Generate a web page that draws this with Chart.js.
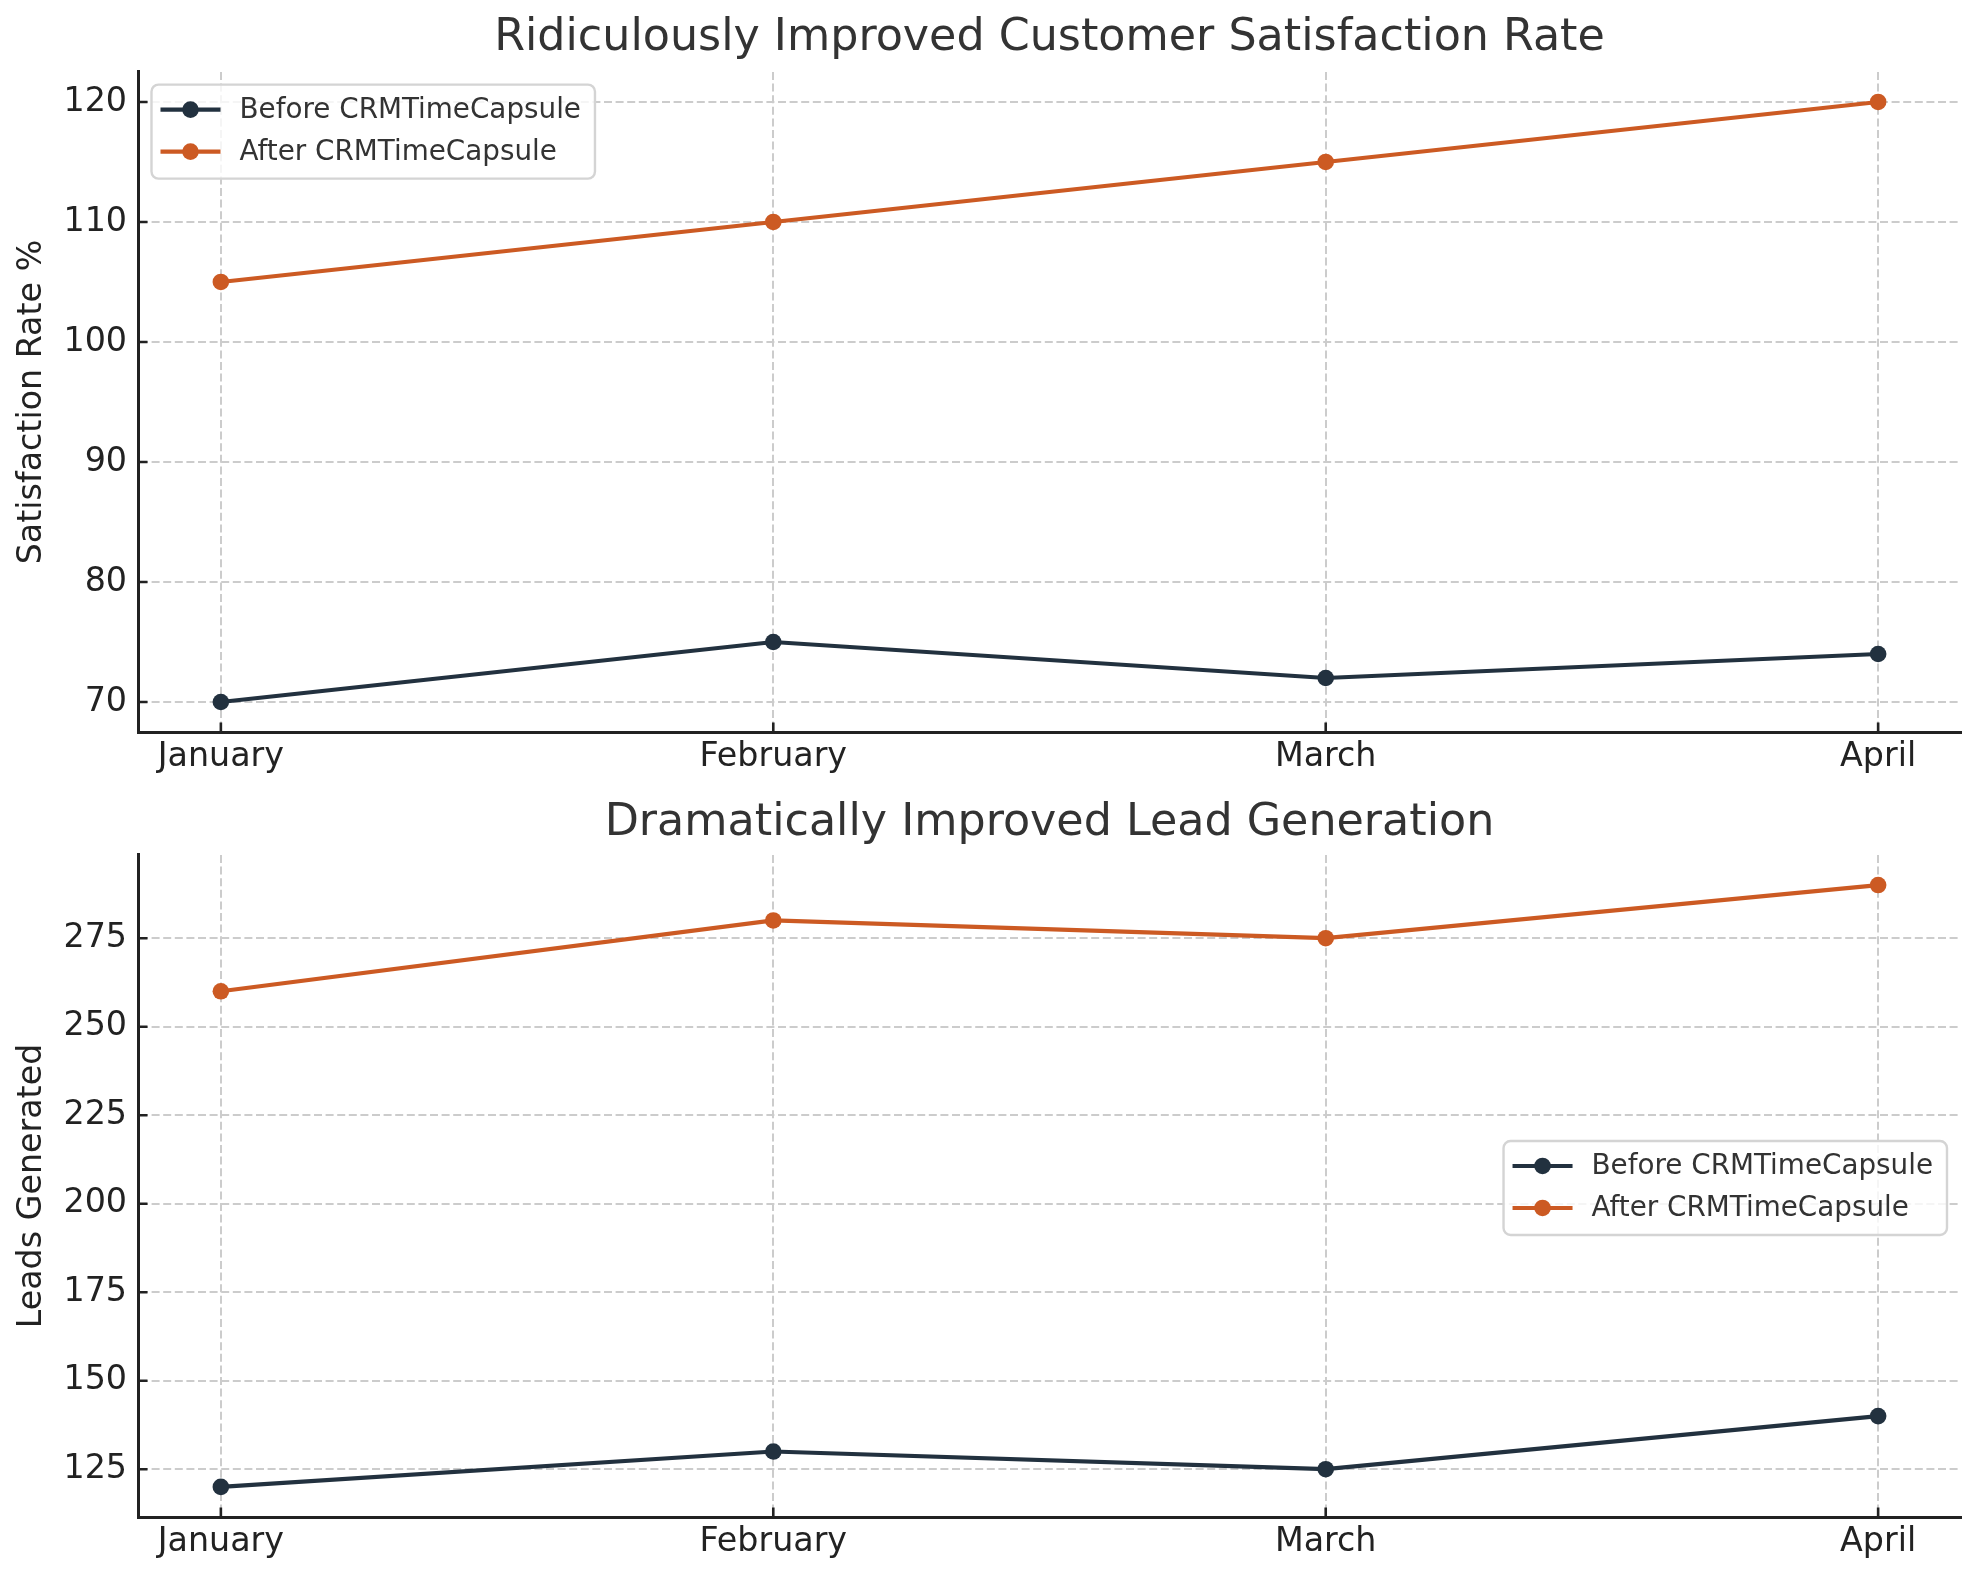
<!DOCTYPE html>
<html>
<head>
<meta charset="utf-8">
<script src="https://cdn.jsdelivr.net/npm/chart.js@4.4.0/dist/chart.umd.min.js"></script>
<style>
  html, body { margin: 0; padding: 0; background: #ffffff; width: 1980px; height: 1580px; overflow: hidden; }
  canvas { display: block; position: absolute; left: 0; }
</style>
</head>
<body>
<canvas id="chartTop" width="1980" height="790" style="top:0px"></canvas>
<canvas id="chartBottom" width="1980" height="790" style="top:790px"></canvas>
<script>
// ---------- data ----------
const months = ['January', 'February', 'March', 'April'];
const seriesNames = ['Before CRMTimeCapsule', 'After CRMTimeCapsule'];

const satisfactionBefore = [70, 75, 72, 74];
const satisfactionAfter  = [105, 110, 115, 120];
const satisfactionTicks  = [70, 80, 90, 100, 110, 120];

const leadsBefore = [120, 130, 125, 140];
const leadsAfter  = [260, 280, 275, 290];
const leadsTicks  = [125, 150, 175, 200, 225, 250, 275];

const chartTitles = ['Ridiculously Improved Customer Satisfaction Rate', 'Dramatically Improved Lead Generation'];
const yAxisTitles = ['Satisfaction Rate %', 'Leads Generated'];

// ---------- style ----------
const FONT = 'DejaVu Sans';
const COLOR_BEFORE = '#22313F';
const COLOR_AFTER = '#CC5A23';
const SPINE = '#222222';

const inwardTicks = {
  id: 'inwardTicks',
  afterDraw(chart) {
    const { ctx, chartArea: a, scales: { x, y } } = chart;
    ctx.save();
    ctx.strokeStyle = SPINE;
    ctx.lineWidth = 2.6;
    ctx.beginPath();
    x.ticks.forEach(t => {
      const px = x.getPixelForValue(t.value);
      ctx.moveTo(px, a.bottom);
      ctx.lineTo(px, a.bottom - 9.5);
    });
    y.ticks.forEach(t => {
      const py = y.getPixelForValue(t.value);
      ctx.moveTo(a.left, py);
      ctx.lineTo(a.left + 9.5, py);
    });
    ctx.stroke();
    ctx.restore();
  }
};

const boxLegend = {
  id: 'boxLegend',
  afterDraw(chart, args, opts) {
    const { ctx, chartArea: a } = chart;
    ctx.save();
    ctx.font = '27.8px "' + FONT + '"';
    const tw = Math.max(...chart.data.datasets.map(d => ctx.measureText(d.label).width));
    const w = 88 + tw + 14;
    const h = 94;
    const left = opts.anchor === 'right' ? a.right - opts.dx - w : a.left + opts.dx;
    const top = a.top + opts.dy;
    ctx.fillStyle = 'rgba(255,255,255,0.8)';
    ctx.strokeStyle = '#d4d4d4';
    ctx.lineWidth = 2.4;
    ctx.beginPath();
    ctx.roundRect(left, top, w, h, 7);
    ctx.fill();
    ctx.stroke();
    chart.data.datasets.forEach((ds, i) => {
      const cy = top + 25 + i * 42;
      ctx.strokeStyle = ds.borderColor;
      ctx.lineWidth = ds.borderWidth;
      ctx.beginPath();
      ctx.moveTo(left + 9, cy);
      ctx.lineTo(left + 69, cy);
      ctx.stroke();
      ctx.fillStyle = ds.pointBackgroundColor;
      ctx.beginPath();
      ctx.arc(left + 39, cy, ds.pointRadius, 0, Math.PI * 2);
      ctx.fill();
      ctx.fillStyle = '#333333';
      ctx.textAlign = 'left';
      ctx.textBaseline = 'middle';
      ctx.fillText(ds.label, left + 88, cy + 1);
    });
    ctx.restore();
  }
};

function makeDataset(label, values, color) {
  return {
    label: label,
    data: values.map((v, i) => ({ x: i, y: v })),
    borderColor: color,
    backgroundColor: color,
    pointBackgroundColor: color,
    pointBorderColor: color,
    pointBorderWidth: 0,
    pointRadius: 8.3,
    borderWidth: 4.2,
    tension: 0,
    fill: false
  };
}

function makeChart(id, before, after, yTicks, title, yTitle, titlePad, xHeight, legendOpts) {
  const all = before.concat(after);
  const lo = Math.min(...all), hi = Math.max(...all);
  const m = 0.05 * (hi - lo);
  const n = months.length - 1;
  const tickFont = { family: FONT, size: 33.3, weight: 'normal' };
  return new Chart(document.getElementById(id), {
    type: 'line',
    data: {
      datasets: [
        makeDataset(seriesNames[0], before, COLOR_BEFORE),
        makeDataset(seriesNames[1], after, COLOR_AFTER)
      ]
    },
    options: {
      responsive: false,
      animation: false,
      devicePixelRatio: 1,
      layout: { padding: { left: 0, right: 19, top: 0, bottom: 0 } },
      plugins: {
        legend: { display: false },
        tooltip: { enabled: false },
        title: {
          display: true,
          text: title,
          fullSize: false,
          color: '#333333',
          font: { family: FONT, size: 44.4, weight: 'normal', lineHeight: 1.2 },
          padding: titlePad
        },
        boxLegend: legendOpts
      },
      scales: {
        x: {
          type: 'linear',
          bounds: 'data',
          min: -0.05 * n,
          max: n * 1.05,
          afterBuildTicks: s => { s.ticks = months.map((mm, i) => ({ value: i })); },
          afterFit: s => { s.height = xHeight; },
          ticks: {
            callback: v => months[v],
            font: tickFont,
            color: '#222222',
            padding: 5,
            maxRotation: 0,
            autoSkip: false
          },
          grid: { color: '#cccccc', lineWidth: 2, drawTicks: false },
          border: { display: true, color: SPINE, width: 3, dash: [8, 3.6] }
        },
        y: {
          type: 'linear',
          bounds: 'data',
          min: lo - m,
          max: hi + m,
          afterBuildTicks: s => { s.ticks = yTicks.map(v => ({ value: v })); },
          afterFit: s => { s.width = 138; },
          ticks: {
            font: tickFont,
            color: '#222222',
            padding: 11
          },
          title: {
            display: true,
            text: yTitle,
            color: '#222222',
            font: { family: FONT, size: 33.3, weight: 'normal', lineHeight: 1.2 },
            padding: { top: 12, bottom: 0 }
          },
          grid: { color: '#cccccc', lineWidth: 2, drawTicks: false },
          border: { display: true, color: SPINE, width: 3, dash: [8, 3.6] }
        }
      }
    },
    plugins: [inwardTicks, boxLegend]
  });
}

makeChart('chartTop', satisfactionBefore, satisfactionAfter, satisfactionTicks,
  chartTitles[0], yAxisTitles[0], { top: 11.4, bottom: 7.3 }, 58,
  { anchor: 'left', dx: 13.5, dy: 12.6 });

makeChart('chartBottom', leadsBefore, leadsAfter, leadsTicks,
  chartTitles[1], yAxisTitles[1], { top: 6.4, bottom: 5.3 }, 63,
  { anchor: 'right', dx: 14, dy: 286 });
</script>
</body>
</html>
